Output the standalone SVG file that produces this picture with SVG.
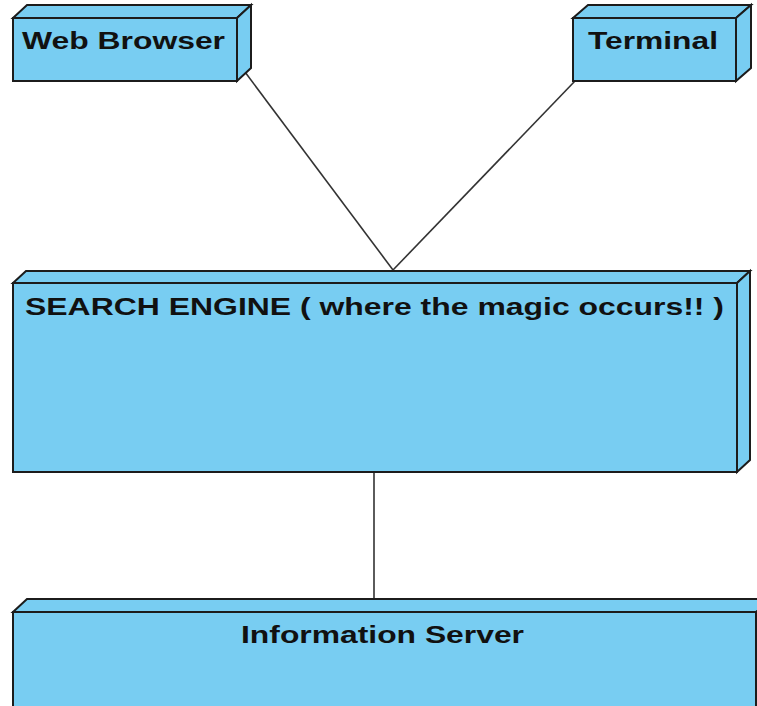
<svg xmlns="http://www.w3.org/2000/svg" width="757" height="706" viewBox="0 0 757 706">
<style>
.face{fill:#78cdf2;stroke:#1c1c1c;stroke-width:2;stroke-linejoin:miter}
.lbl{font-family:"Liberation Sans",Arial,sans-serif;font-weight:bold;font-size:23px;fill:#111}
.conn{stroke:#333;stroke-width:1.6;fill:none}
</style>
<rect width="757" height="706" fill="#fff"/>
<g id="connectors">
<line class="conn" x1="245" y1="72" x2="393" y2="270"/>
<line class="conn" x1="575" y1="81" x2="393" y2="270"/>
<line class="conn" x1="374" y1="472" x2="374" y2="598"/>
</g>
<g id="web-browser">
<path class="face" d="M13,18 L27,5 L251,5 L237,18 Z"/>
<path class="face" d="M237,18 L251,5 L251,68 L237,81 Z"/>
<rect class="face" x="13" y="18" width="224" height="63"/>
<text class="lbl" x="22" y="49" textLength="203" lengthAdjust="spacingAndGlyphs">Web Browser</text>
</g>
<g id="terminal">
<path class="face" d="M573,18 L588,5 L751,5 L736,18 Z"/>
<path class="face" d="M736,18 L751,5 L751,68 L736,81 Z"/>
<rect class="face" x="573" y="18" width="163" height="63"/>
<text class="lbl" x="588" y="49" textLength="130" lengthAdjust="spacingAndGlyphs">Terminal</text>
</g>
<g id="search-engine">
<path class="face" d="M13,283 L26,271 L750,271 L737,283 Z"/>
<path class="face" d="M737,283 L750,271 L750,460 L737,472 Z"/>
<rect class="face" x="13" y="283" width="724" height="189"/>
<text class="lbl" x="25" y="315" textLength="699" lengthAdjust="spacingAndGlyphs">SEARCH ENGINE ( where the magic occurs!! )</text>
</g>
<g id="information-server">
<path class="face" d="M13,612 L27,599 L770,599 L756,612 Z"/>
<rect class="face" x="13" y="612" width="743" height="110"/>
<text class="lbl" x="241" y="643" textLength="283" lengthAdjust="spacingAndGlyphs">Information Server</text>
</g>
</svg>
